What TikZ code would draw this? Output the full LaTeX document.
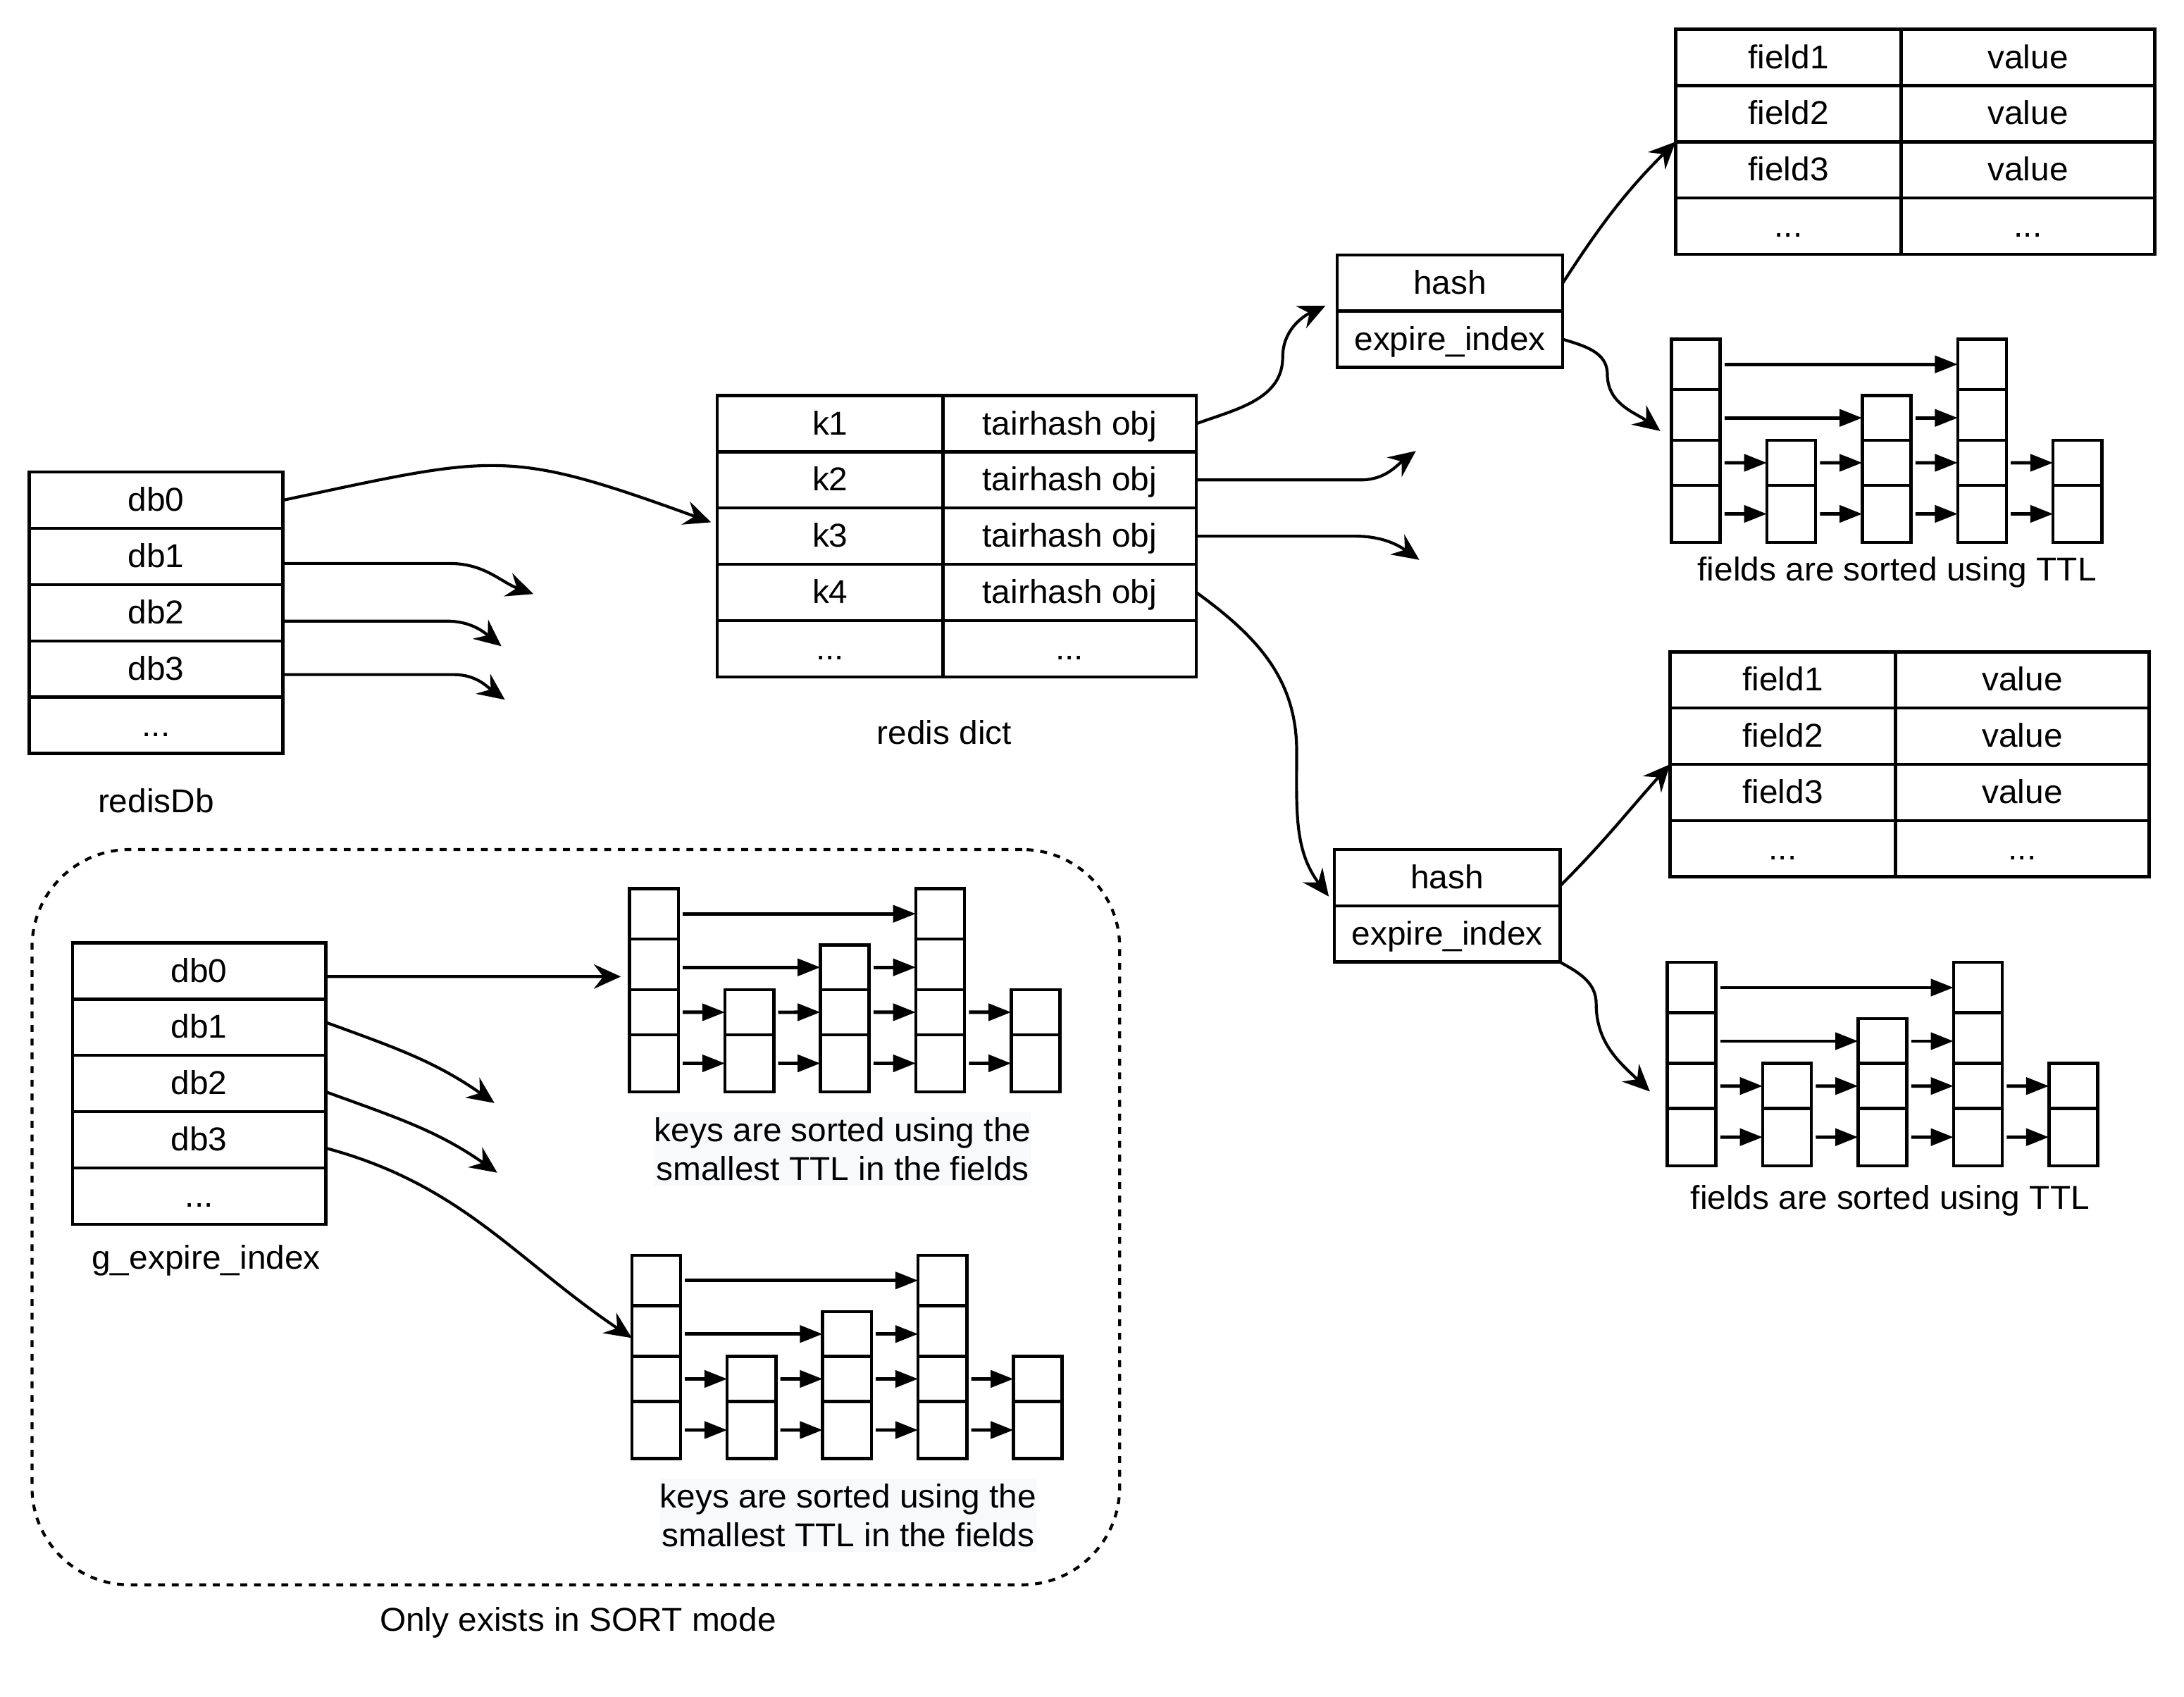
\documentclass[tikz,border=0pt]{standalone}
\usepackage{fontspec}
\setmainfont{Liberation Sans}[FakeStretch=1.02]
\usetikzlibrary{arrows.meta,positioning}
\definecolor{labelbg}{RGB}{248,249,250}
\tikzset{
  cell/.style={
    draw=black,
    line width=1.3pt,
    inner sep=0pt,
    outer sep=0pt,
    minimum height=0.808cm,
    text height=9pt,
    text depth=0pt,
    anchor=north west
  },
  wide/.style={minimum width=3.64cm},
  narrow/.style={minimum width=3.24cm},
  slot/.style={
    draw=black,
    line width=1.3pt,
    inner sep=0pt,
    outer sep=0pt,
    minimum width=0.7cm,
    anchor=north west
  },
  lvA/.style={minimum height=0.724cm},
  lvB/.style={minimum height=0.728cm},
  lvC/.style={minimum height=0.648cm},
  lvD/.style={minimum height=0.82cm},
  hop/.style={
    line width=1.4pt,
    shorten <=1.8pt,
    -{Triangle[length=9.3pt,width=6.9pt]}
  },
  link/.style={
    line width=1.2pt,
    -{Stealth[length=11pt,width=10pt,inset=3.8pt]}
  },
  frame/.style={
    draw=black,
    line width=1.2pt,
    dash pattern=on 2.8pt off 2.8pt,
    rounded corners=1.4cm,
    inner sep=0pt,
    outer sep=0pt,
    anchor=north west
  },
  caption/.style={inner sep=0pt, align=center}
}
% one field/value table, 4 rows
\newcommand{\fieldtable}[3]{%
  \node[cell, narrow] (#1k1) at (#2,#3) {field1};
  \node[cell, wide, right=0pt of #1k1] (#1v1) {value};
  \node[cell, narrow, below=0pt of #1k1] (#1k2) {field2};
  \node[cell, wide, right=0pt of #1k2] (#1v2) {value};
  \node[cell, narrow, below=0pt of #1k2] (#1k3) {field3};
  \node[cell, wide, right=0pt of #1k3] (#1v3) {value};
  \node[cell, narrow, below=0pt of #1k3] (#1kx) {...};
  \node[cell, wide, right=0pt of #1kx] (#1vx) {...};
}
% one skip list, 5 columns, 4 levels
\newcommand{\skiplist}[3]{%
  \begin{scope}[shift={(#2,#3)}]
    \node[slot, lvA] (#1-1-1) at (0,0) {};
    \node[slot, lvB, below=0pt of #1-1-1] (#1-1-2) {};
    \node[slot, lvC, below=0pt of #1-1-2] (#1-1-3) {};
    \node[slot, lvD, below=0pt of #1-1-3] (#1-1-4) {};
    \node[slot, lvC] (#1-2-3) at (68.5,72.6) {};
    \node[slot, lvD, below=0pt of #1-2-3] (#1-2-4) {};
    \node[slot, minimum height=0.642cm] (#1-3-2) at (137,40.5) {};
    \node[slot, lvC, below=0pt of #1-3-2] (#1-3-3) {};
    \node[slot, lvD, below=0pt of #1-3-3] (#1-3-4) {};
    \node[slot, lvA] (#1-4-1) at (205.5,0) {};
    \node[slot, lvB, below=0pt of #1-4-1] (#1-4-2) {};
    \node[slot, lvC, below=0pt of #1-4-2] (#1-4-3) {};
    \node[slot, lvD, below=0pt of #1-4-3] (#1-4-4) {};
    \node[slot, lvC] (#1-5-3) at (274,72.6) {};
    \node[slot, lvD, below=0pt of #1-5-3] (#1-5-4) {};
    \draw[hop] (#1-1-1.east) -- (#1-4-1.west);
    \draw[hop] (#1-1-2.east |- #1-3-2.west) -- (#1-3-2.west);
    \draw[hop] (#1-3-2.east) -- (#1-3-2.east -| #1-4-2.west);
    \draw[hop] (#1-1-3.east) -- (#1-2-3.west);
    \draw[hop] (#1-2-3.east) -- (#1-3-3.west);
    \draw[hop] (#1-3-3.east) -- (#1-4-3.west);
    \draw[hop] (#1-4-3.east) -- (#1-5-3.west);
    \draw[hop] (#1-1-4.east) -- (#1-2-4.west);
    \draw[hop] (#1-2-4.east) -- (#1-3-4.west);
    \draw[hop] (#1-3-4.east) -- (#1-4-4.west);
    \draw[hop] (#1-4-4.east) -- (#1-5-4.west);
  \end{scope}
}

\begin{document}
\begin{tikzpicture}[x=0.02cm, y=-0.02cm, font=\fontsize{13.5pt}{15.9pt}\selectfont]
  \useasboundingbox (0,0) rectangle (1568,1218);

  % SORT mode frame
  \node[frame, minimum width=15.62cm, minimum height=10.56cm] (sortbox) at (23,610) {};
  \node[caption] (sortname) at (415,1165) {Only exists in SORT mode};

  % redisDb
  \node[cell, wide] (rdb0) at (21,339) {db0};
  \node[cell, wide, below=0pt of rdb0] (rdb1) {db1};
  \node[cell, wide, below=0pt of rdb1] (rdb2) {db2};
  \node[cell, wide, below=0pt of rdb2] (rdb3) {db3};
  \node[cell, wide, below=0pt of rdb3] (rdbx) {...};
  \node[caption] (rdbname) at (112,575) {redisDb};

  % redis dict
  \node[cell, narrow] (k1) at (515,284) {k1};
  \node[cell, wide, right=0pt of k1] (v1) {tairhash obj};
  \node[cell, narrow, below=0pt of k1] (k2) {k2};
  \node[cell, wide, right=0pt of k2] (v2) {tairhash obj};
  \node[cell, narrow, below=0pt of k2] (k3) {k3};
  \node[cell, wide, right=0pt of k3] (v3) {tairhash obj};
  \node[cell, narrow, below=0pt of k3] (k4) {k4};
  \node[cell, wide, right=0pt of k4] (v4) {tairhash obj};
  \node[cell, narrow, below=0pt of k4] (kx) {...};
  \node[cell, wide, right=0pt of kx] (vx) {...};
  \node[caption] (dictname) at (678,526) {redis dict};

  % tairhash objects
  \node[cell, narrow] (h1a) at (960,183) {hash};
  \node[cell, narrow, below=0pt of h1a] (h1b) {expire\_index};
  \node[cell, narrow] (h2a) at (958,610) {hash};
  \node[cell, narrow, below=0pt of h2a] (h2b) {expire\_index};

  % fields and their TTL index
  \fieldtable{fa}{1203}{21}
  \fieldtable{fb}{1199}{468}
  \skiplist{sla}{1200}{243.5}
  \skiplist{slb}{1197}{691}
  \node[caption] (slaname) at (1362,411) {fields are sorted using TTL};
  \node[caption] (slbname) at (1357,862) {fields are sorted using TTL};

  % g_expire_index
  \node[cell, wide] (gdb0) at (52,677) {db0};
  \node[cell, wide, below=0pt of gdb0] (gdb1) {db1};
  \node[cell, wide, below=0pt of gdb1] (gdb2) {db2};
  \node[cell, wide, below=0pt of gdb2] (gdb3) {db3};
  \node[cell, wide, below=0pt of gdb3] (gdbx) {...};
  \node[caption] (gidxname) at (148,905) {g\_expire\_index};
  \skiplist{slc}{452}{638}
  \skiplist{sld}{453.6}{901.3}
  \node[caption, fill=labelbg, inner ysep=2pt] (slcname) at (605,825)
    {keys are sorted using the\\smallest TTL in the fields};
  \node[caption, fill=labelbg, inner ysep=2pt] (sldname) at (609,1088)
    {keys are sorted using the\\smallest TTL in the fields};

  % free arrow ends
  \coordinate (dictin) at (510.5,375);
  \coordinate (db1end) at (383,426.5);
  \coordinate (db2end) at (360,464);
  \coordinate (db3end) at (362.5,502.4);
  \coordinate (k2end) at (1016.5,323.8);
  \coordinate (k3end) at (1019,402);
  \coordinate (hash1in) at (951.6,219.5);
  \coordinate (hash2in) at (954,643.7);
  \coordinate (slain) at (1192,309.5);
  \coordinate (slbin) at (1184.5,783.7);
  \coordinate (g0end) at (445.7,701.2);
  \coordinate (g1end) at (355,792);
  \coordinate (g2end) at (357,842);

  % links
  \draw[link] (rdb0.east) to[out=12, in=160, looseness=1.3] (dictin);
  \draw[link] ([yshift=-0.1cm]rdb1.east) -- ++(120,0) to[out=0, in=160] (db1end);
  \draw[link] ([yshift=-0.12cm]rdb2.east) -- ++(118,0) to[out=0, in=141] (db2end);
  \draw[link] ([yshift=-0.08cm]rdb3.east) -- ++(123,0) to[out=0, in=144] (db3end);

  \draw[link] (v1.east) to[out=20, in=-90] ++(62,-48) to[out=90, in=205] (hash1in);
  \draw[link] (v2.east) -- ++(118,0) to[out=0, in=217] (k2end);
  \draw[link] (v3.east) -- ++(114,0) to[out=0, in=145] (k3end);
  \draw[link] (v4.east) to[out=-36, in=90] ++(72,114) to[out=-90, in=127] (hash2in);

  \draw[link] (h1a.east) to[out=57, in=225] (fak3.north west);
  \draw[link] (h1b.east) to[out=-17, in=90] ++(32,25) to[out=-90, in=143] (slain);
  \draw[link] ([yshift=-0.12cm]h2a.east) to[out=45, in=228] (fbk3.north west);
  \draw[link] (h2b.south east) to[out=-29, in=90] ++(26,30) to[out=-90, in=136] (slbin);

  \draw[link] ([yshift=-0.08cm]gdb0.east) -- (g0end);
  \draw[link] ([yshift=0.07cm]gdb1.east) to[out=-20, in=145] (g1end);
  \draw[link] ([yshift=-0.12cm]gdb2.east) to[out=-20, in=145] (g2end);
  \draw[link] ([yshift=-0.12cm]gdb3.east) to[out=-15, in=146] ([yshift=-0.1cm]sld-1-2.west);
\end{tikzpicture}
\end{document}
